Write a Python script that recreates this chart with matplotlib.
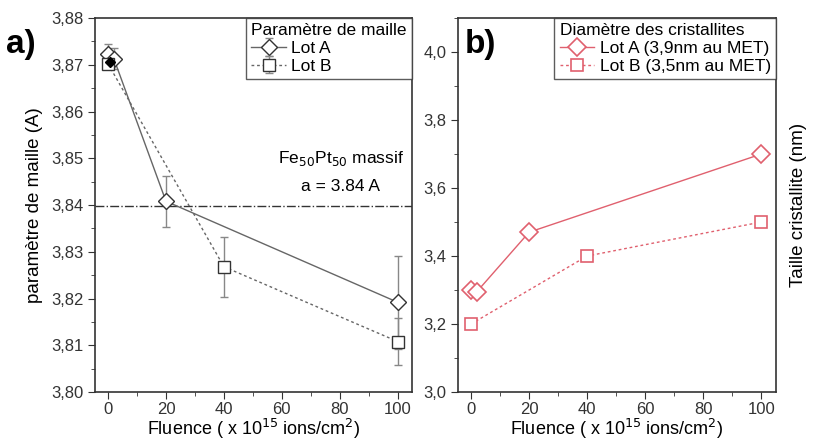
import matplotlib
matplotlib.use("Agg")
import matplotlib.pyplot as plt
from matplotlib.ticker import FuncFormatter, MultipleLocator, AutoMinorLocator

plt.rcParams['font.family'] = ['Liberation Sans', 'DejaVu Sans']

# panel a) parametre de maille
fluence_a = [0, 2, 20, 100]
maille_a = [3.8722, 3.8713, 3.8408, 3.8192]
err_a = [0.0023, 0.0022, 0.0054, 0.0100]
fluence_b = [0, 40, 100]
maille_b = [3.8702, 3.8268, 3.8108]
err_b = [0.0010, 0.0064, 0.0050]
massif_x = [0.5]
massif_y = [3.8707]
ref_maille = 3.8398

# panel b) taille cristallite
taille_fl_a = [0, 2, 20, 100]
taille_a = [3.30, 3.295, 3.47, 3.70]
taille_fl_b = [0, 40, 100]
taille_b = [3.20, 3.40, 3.50]

gray = '#666666'
red = '#e0606e'
dots = (0, (2, 2))

fig = plt.figure(figsize=(8.13, 4.44), dpi=100)
ax1 = fig.add_axes([0.1169, 0.1171, 0.39, 0.8423])
ax2 = fig.add_axes([0.5633, 0.1171, 0.391, 0.8423])

comma2 = FuncFormatter(lambda v, p: f"{v:.2f}".replace('.', ','))
comma1 = FuncFormatter(lambda v, p: f"{v:.1f}".replace('.', ','))

ax1.errorbar(fluence_a, maille_a, yerr=err_a, color=gray, lw=1, marker='D', ms=8,
             mfc='white', mec='#333333', mew=1, ecolor='#888888', capsize=3,
             label='Lot A', zorder=3)
ax1.errorbar(fluence_b, maille_b, yerr=err_b, color=gray, lw=1, ls=dots, marker='s', ms=8,
             mfc='white', mec='#333333', mew=1, ecolor='#888888', capsize=3,
             label='Lot B', zorder=3)
ax1.plot(massif_x, massif_y, 'D', color='black', ms=5, zorder=4)
ax1.axhline(ref_maille, color='#333333', lw=1, ls='-.')
ax1.text(0.975, 0.625, 'Fe$_{50}$Pt$_{50}$ massif', transform=ax1.transAxes,
         ha='right', va='center', fontsize=12.5)
ax1.text(0.9, 0.55, 'a = 3.84 A', transform=ax1.transAxes,
         ha='right', va='center', fontsize=12.5)

ax1.set_xlim(-4.5, 105)
ax1.set_ylim(3.80, 3.88)
ax1.xaxis.set_major_locator(MultipleLocator(20))
ax1.xaxis.set_minor_locator(AutoMinorLocator(2))
ax1.yaxis.set_major_locator(MultipleLocator(0.01))
ax1.yaxis.set_minor_locator(AutoMinorLocator(2))
ax1.yaxis.set_major_formatter(comma2)
ax1.set_ylabel('paramètre de maille (A)', fontsize=13.5, labelpad=6)
ax1.set_xlabel('Fluence ( x 10$^{15}$ ions/cm$^2$)', fontsize=13, labelpad=0)
leg1 = ax1.legend(title='Paramètre de maille', loc='upper right', fontsize=12.5,
                  title_fontsize=12.5, frameon=True, fancybox=False, edgecolor='#333333',
                  borderaxespad=0, handlelength=2.0, handletextpad=0.3,
                  borderpad=0.3, labelspacing=0.15)
leg1.get_frame().set_linewidth(1)
leg1._legend_box.align = 'left'
ax1.text(-0.28, 0.93, 'a)', transform=ax1.transAxes, fontsize=24, fontweight='bold',
         ha='left', va='center')

ax2.plot(taille_fl_a, taille_a, color=red, lw=1, marker='D', ms=9, mfc='white',
         mec=red, mew=1.2, label='Lot A (3,9nm au MET)')
ax2.plot(taille_fl_b, taille_b, color=red, lw=1, ls=dots, marker='s', ms=8, mfc='white',
         mec=red, mew=1.2, label='Lot B (3,5nm au MET)')
ax2.set_xlim(-4.5, 105)
ax2.set_ylim(3.0, 4.1)
ax2.xaxis.set_major_locator(MultipleLocator(20))
ax2.xaxis.set_minor_locator(AutoMinorLocator(2))
ax2.yaxis.set_major_locator(MultipleLocator(0.2))
ax2.yaxis.set_minor_locator(AutoMinorLocator(2))
ax2.yaxis.set_major_formatter(comma1)
ax2.set_xlabel('Fluence ( x 10$^{15}$ ions/cm$^2$)', fontsize=13, labelpad=0)
ax2.yaxis.set_label_position('right')
ax2.set_ylabel('Taille cristallite (nm)', fontsize=13.5, labelpad=10)
leg2 = ax2.legend(title='Diamètre des cristallites', loc='upper right', fontsize=12.5,
                  title_fontsize=12.5, frameon=True, fancybox=False, edgecolor='#333333',
                  borderaxespad=0, handlelength=2.0, handletextpad=0.3,
                  borderpad=0.3, labelspacing=0.15)
leg2.get_frame().set_linewidth(1)
leg2._legend_box.align = 'left'
ax2.text(0.02, 0.93, 'b)', transform=ax2.transAxes, fontsize=24, fontweight='bold',
         ha='left', va='center')

for ax in (ax1, ax2):
    ax.tick_params(which='both', direction='out', labelsize=12, colors='#333333')
    ax.tick_params(which='major', length=5)
    ax.tick_params(which='minor', length=3)
    ax.tick_params(axis='x', pad=2)
    for s in ax.spines.values():
        s.set_linewidth(1.2)
        s.set_color('#333333')

fig.savefig('out.png', dpi=100)
